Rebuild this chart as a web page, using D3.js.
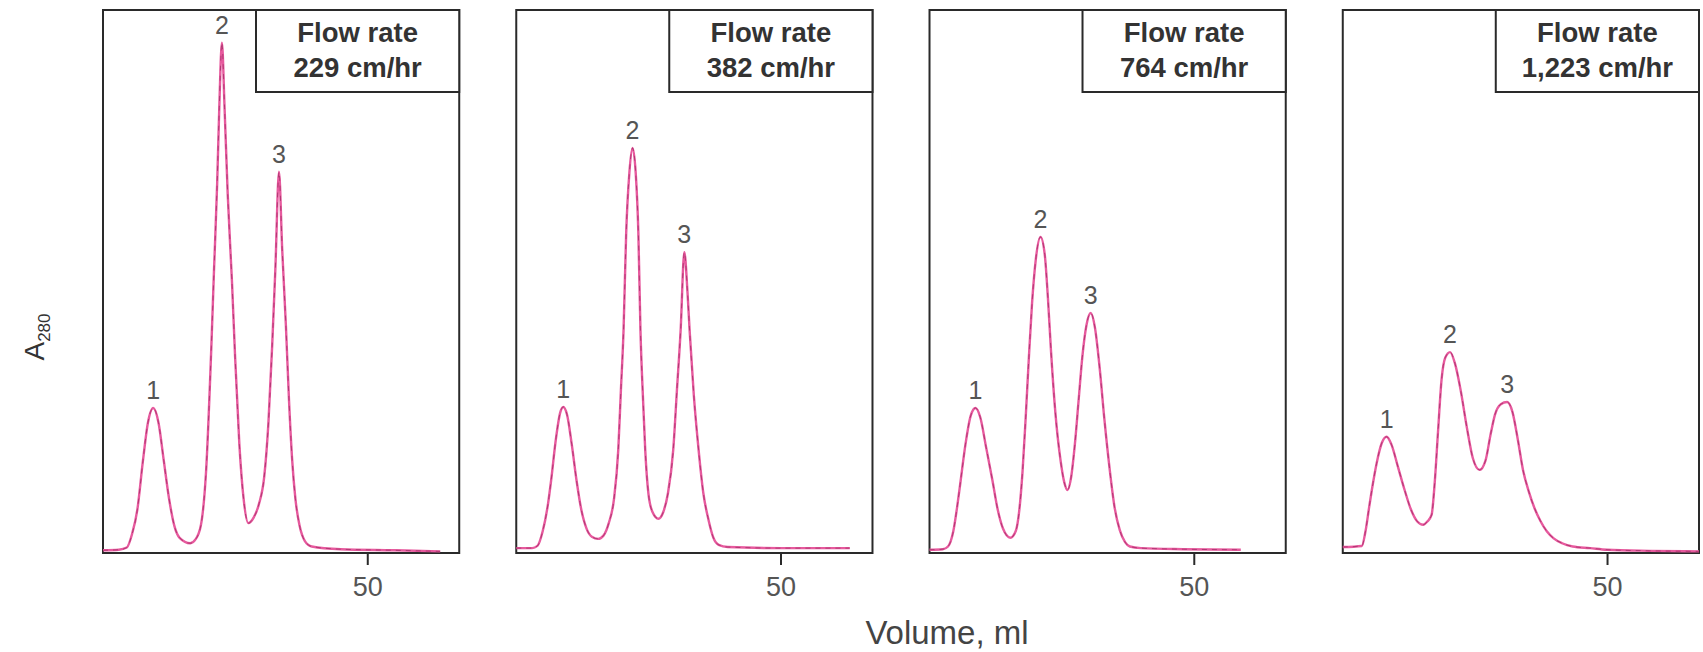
<!DOCTYPE html>
<html>
<head>
<meta charset="utf-8">
<script src="https://cdnjs.cloudflare.com/ajax/libs/d3/7.8.5/d3.min.js"></script>
<style>
    body { margin: 0; background: #fff; }
    text { font-family: "Liberation Sans", Arial, Helvetica, sans-serif; }
</style>
</head>
<body>
<div id="chart"></div>
<script>
// flow rate of each run (one panel each)
var flowRates = ["229 cm/hr", "382 cm/hr", "764 cm/hr", "1,223 cm/hr"];
var xTicks = [50];

// elution profiles: [volume ml, A280 (relative)]
var curve229 = [[0, 0.5], [3, 0.6], [4.5, 1.0], [5.5, 3.5], [6.5, 8], [7.5, 16.5], [8.5, 24], [9.5, 26.7],
    [10.5, 24], [11.5, 17], [12.5, 10], [13.5, 5], [14.5, 2.8], [16.5, 1.8], [17.5, 2.5], [18.5, 5],
    [19.5, 15], [20.5, 38], [21.0, 52], [21.6, 68], [22.0, 82], [22.5, 94], [23.0, 82], [23.6, 66],
    [24.4, 50], [25.0, 36], [25.8, 20], [26.6, 10], [27.5, 5.5], [28.5, 6.5], [29.5, 9], [30.5, 14],
    [31.3, 24], [32.0, 38], [32.6, 52], [33.3, 70.2], [33.9, 56], [34.6, 42], [35.2, 28], [35.8, 17],
    [36.4, 10], [37.2, 5], [38.2, 2.2], [39.5, 1.2], [45, 0.7], [55, 0.5], [63.8, 0.3]];

var curve382 = [[0, 0.9], [3, 0.9], [4, 1.3], [5, 4], [6, 9], [6.6, 13.4], [7.5, 21], [8.3, 25.8], [8.9, 26.9],
    [9.6, 25.5], [10.5, 20], [11.4, 13.4], [12.3, 8], [13.3, 4.5], [14.3, 3], [15.5, 2.6], [16.5, 3.2],
    [17.5, 5.5], [18.5, 10], [19.3, 19], [19.8, 30], [20.3, 41], [20.8, 59], [21.4, 70], [22.0, 74.6],
    [22.6, 70], [23.1, 59], [23.5, 41], [24.0, 28], [24.4, 19], [25.0, 11], [25.8, 7.5], [26.9, 6.3],
    [27.8, 7.5], [28.7, 11], [29.7, 19], [30.4, 30], [31.1, 41], [31.8, 55.4], [32.4, 48], [32.8, 41],
    [33.6, 29], [34.5, 19], [35.4, 11], [36.4, 6], [37.3, 2.8], [38.3, 1.5], [40, 1.1], [50, 0.9], [63.1, 0.9]];

var curve764 = [[0, 0.6], [2.5, 0.7], [3.5, 1.2], [4.5, 4], [5.3, 9], [5.9, 13.4], [6.8, 20], [7.8, 25.3],
    [8.7, 26.7], [9.6, 25], [10.7, 19.5], [11.9, 13.4], [12.9, 8], [13.9, 4.5], [15.3, 2.8], [16.3, 4],
    [17.0, 8], [17.6, 15], [18.2, 25], [18.8, 36], [19.4, 46], [20.1, 54], [21.0, 58.2], [21.8, 55],
    [22.4, 47], [23.0, 37], [23.8, 26], [24.8, 17], [25.5, 13], [26.1, 11.6], [26.8, 14], [27.5, 20],
    [28.2, 28], [28.9, 36], [29.7, 42], [30.5, 44.2], [31.3, 41.5], [32.2, 34], [33.1, 24.5], [34.1, 15.3],
    [35.0, 8.5], [36.0, 4.2], [37.0, 2], [37.9, 1.2], [40, 0.9], [48, 0.7], [58.9, 0.6]];

var curve1223 = [[0, 1.1], [3.6, 1.3], [4.3, 4], [5.0, 8.5], [5.5, 11.6], [6.4, 16.5], [7.4, 20.3], [8.3, 21.4],
    [9.2, 20], [10.4, 16], [11.7, 11.6], [12.9, 8], [14.1, 5.8], [15.2, 5.2], [16.0, 5.8], [16.8, 7],
    [17.4, 13], [18.0, 22], [18.7, 32], [19.4, 36], [20.3, 37.0], [21.2, 35], [22.3, 30], [23.5, 23],
    [24.6, 17.5], [25.9, 15.3], [27.0, 17], [28.0, 22], [28.8, 25.5], [29.9, 27.4], [31.1, 27.8], [32.1, 26],
    [33.1, 21], [34.1, 15.3], [35.2, 11.3], [36.3, 8.2], [37.4, 5.9], [38.6, 4.0], [39.9, 2.7], [41.5, 1.8],
    [43.5, 1.2], [46.8, 0.9], [50, 0.6], [58, 0.4], [67.4, 0.3]];

var curves = [curve229, curve382, curve764, curve1223];

var width = 1703;
var height = 652;
var plotTop = 10;
var plotBottom = 553;

var svg = d3.select("#chart").append("svg")
    .attr("width", width)
    .attr("height", height);

// one band per panel
var panel = d3.scaleBand()
    .domain(flowRates)
    .range([103, 1699])
    .paddingInner(0.138)
    .paddingOuter(0);

var pw = panel.bandwidth();

var x = d3.scaleLinear()
    .domain([0, 67.4])
    .range([0, pw]);

var y = d3.scaleLinear()
    .domain([0, 100])
    .range([plotBottom, plotTop]);

var line = d3.line()
    .x(function (d) { return x(d[0]); })
    .y(function (d) { return y(d[1]); })
    .curve(d3.curveMonotoneX);

flowRates.forEach(function (rate, i) {
    var data = curves[i];
    var g = svg.append("g")
        .attr("transform", "translate(" + panel(rate) + ",0)");

    //frame
    g.append("rect")
        .attr("x", 0)
        .attr("y", plotTop)
        .attr("width", pw)
        .attr("height", plotBottom - plotTop)
        .attr("fill", "none")
        .attr("stroke", "#2a2a2a")
        .attr("stroke-width", 2);

    //x-axis (only the 50 ml tick)
    var xAxisCall = d3.axisBottom(x).tickValues(xTicks).tickSize(12).tickPadding(12);
    var ax = g.append("g")
        .attr("class", "x-axis")
        .attr("transform", "translate(0," + plotBottom + ")")
        .call(xAxisCall);
    ax.select(".domain").remove();
    ax.selectAll("line").attr("stroke", "#2a2a2a").attr("stroke-width", 2);
    ax.selectAll("text")
        .attr("fill", "#555")
        .style("font-size", "27px")
        .style("font-family", "'Liberation Sans', Arial, sans-serif");

    //elution curve
    g.append("path")
        .datum(data)
        .attr("d", line)
        .attr("fill", "none")
        .attr("stroke", "#e75a9e")
        .attr("stroke-width", 2.4);
    g.append("path")
        .datum(data)
        .attr("d", line)
        .attr("fill", "none")
        .attr("stroke", "#8e1f55")
        .attr("stroke-width", 1)
        .attr("stroke-dasharray", "5,5")
        .style("opacity", 0.6);

    //peak numbers at local maxima
    var peaks = data.filter(function (d, j) {
        return j > 0 && j < data.length - 1 && d[1] > data[j - 1][1] && d[1] > data[j + 1][1] && d[1] > 10;
    });
    g.selectAll(".peak")
        .data(peaks)
        .enter()
        .append("text")
        .attr("class", "peak")
        .attr("x", function (d) { return x(d[0]); })
        .attr("y", function (d) { return y(d[1]) - 9; })
        .attr("text-anchor", "middle")
        .attr("fill", "#555")
        .style("font-size", "25px")
        .text(function (d, j) { return j + 1; });

    //flow rate box
    var bx = 153;
    g.append("rect")
        .attr("x", bx)
        .attr("y", plotTop)
        .attr("width", pw - bx)
        .attr("height", 92 - plotTop)
        .attr("fill", "#fff")
        .attr("stroke", "#2a2a2a")
        .attr("stroke-width", 2);
    var label = g.append("text")
        .attr("text-anchor", "middle")
        .attr("fill", "#333")
        .style("font-size", "27.5px")
        .style("font-weight", "bold");
    label.append("tspan")
        .attr("x", bx + (pw - bx) / 2)
        .attr("y", 42)
        .text("Flow rate");
    label.append("tspan")
        .attr("x", bx + (pw - bx) / 2)
        .attr("y", 77)
        .text(rate);
});

//axis titles
svg.append("text")
    .attr("x", 947)
    .attr("y", 644)
    .attr("text-anchor", "middle")
    .attr("fill", "#444")
    .style("font-size", "33px")
    .text("Volume, ml");

var yl = svg.append("text")
    .attr("transform", "translate(44,337) rotate(-90)")
    .attr("text-anchor", "middle")
    .attr("fill", "#333")
    .style("font-size", "28px");
yl.append("tspan").text("A");
yl.append("tspan")
    .attr("dy", 6)
    .style("font-size", "17px")
    .text("280");
</script>
</body>
</html>
